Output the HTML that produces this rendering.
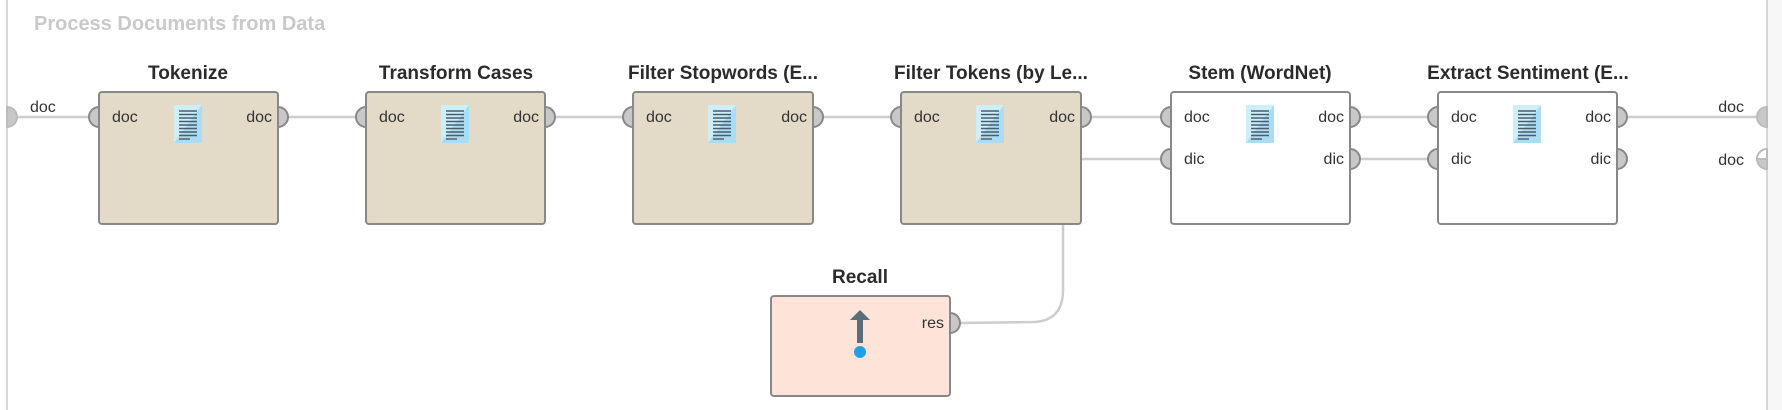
<!DOCTYPE html>
<html><head><meta charset="utf-8"><style>
html,body{margin:0;padding:0;background:#fff;}
svg{display:block;}
text{font-family:"Liberation Sans",sans-serif;}
</style></head><body>
<svg width="1782" height="410" viewBox="0 0 1782 410" xmlns="http://www.w3.org/2000/svg">
<defs>
<g id="icon">
  <rect x="0" y="0" width="28" height="38" fill="#cdeefb"/>
  <polygon points="28,0 28,38 0,38" fill="#a9dcf5"/>
  <g stroke="#4a5d6a" stroke-width="1.4">
    <line x1="5" y1="6" x2="23" y2="6"/><line x1="5" y1="9.5" x2="23" y2="9.5"/>
    <line x1="5" y1="13" x2="23" y2="13"/><line x1="5" y1="16.5" x2="23" y2="16.5"/>
    <line x1="5" y1="20" x2="23" y2="20"/><line x1="5" y1="23.5" x2="23" y2="23.5"/>
    <line x1="5" y1="27" x2="23" y2="27"/><line x1="5" y1="30.5" x2="23" y2="30.5"/>
    <line x1="5" y1="34" x2="16" y2="34"/>
  </g>
</g>
<path id="pin" d="M0,-10 A10,10 0 0 0 0,10 Z" fill="#c8c8c8" stroke="#888" stroke-width="2"/>
<path id="pout" d="M0,-10 A10,10 0 0 1 0,10 Z" fill="#c8c8c8" stroke="#888" stroke-width="2"/>
</defs>
<rect x="1767" y="0" width="15" height="410" fill="#f7f7f7"/>
<line x1="1767" y1="0" x2="1767" y2="410" stroke="#ccc" stroke-width="1.5"/>
<line x1="7" y1="0" x2="7" y2="410" stroke="#ccc" stroke-width="1.5"/>
<text x="34" y="30" font-size="20" font-weight="bold" fill="#c9c9c9">Process Documents from Data</text>

<g stroke="#cdcdcd" stroke-width="2.5" fill="none">
  <line x1="8" y1="117" x2="89" y2="117"/>
  <line x1="288" y1="117" x2="356" y2="117"/>
  <line x1="555" y1="117" x2="623" y2="117"/>
  <line x1="823" y1="117" x2="891" y2="117"/>
  <line x1="1091" y1="117" x2="1161" y2="117"/>
  <line x1="1360" y1="117" x2="1428" y2="117"/>
  <line x1="1360" y1="159" x2="1428" y2="159"/>
  <line x1="1627" y1="117" x2="1757" y2="117"/>
  <path d="M960,323 L1035,322 Q1063,320 1063,290 L1063,175 Q1063,160 1085,159 L1161,159"/>
</g>

<path d="M7,107 A10,10 0 0 1 7,127 Z" fill="#c8c8c8" stroke="#bbb" stroke-width="2"/>
<text x="30" y="112" font-size="16" fill="#333">doc</text>
<path d="M1767,107 A10,10 0 0 0 1767,127 Z" fill="#c8c8c8" stroke="#bbb" stroke-width="2"/>
<path d="M1767,149 A10,10 0 0 0 1757,159 L1767,159 Z" fill="#fff" stroke="#bbb" stroke-width="2"/>
<path d="M1757,159 A10,10 0 0 0 1767,169 L1767,159 Z" fill="#c8c8c8" stroke="#bbb" stroke-width="2"/>
<text x="1744" y="112" font-size="16" fill="#333" text-anchor="end">doc</text>
<text x="1744" y="165" font-size="16" fill="#333" text-anchor="end">doc</text>

<g font-size="16" fill="#333">
<text x="188" y="79" font-size="19" font-weight="bold" text-anchor="middle" fill="#2b2b2b">Tokenize</text>
<rect x="99" y="92" width="179" height="132" rx="3" fill="#e3dbc8" stroke="#888" stroke-width="2"/>
<use href="#icon" x="174" y="105"/>
<use href="#pin" x="99" y="117"/><use href="#pout" x="278" y="117"/>
<text x="112" y="122">doc</text><text x="272" y="122" text-anchor="end">doc</text>

<text x="456" y="79" font-size="19" font-weight="bold" text-anchor="middle" fill="#2b2b2b">Transform Cases</text>
<rect x="366" y="92" width="179" height="132" rx="3" fill="#e3dbc8" stroke="#888" stroke-width="2"/>
<use href="#icon" x="441" y="105"/>
<use href="#pin" x="366" y="117"/><use href="#pout" x="545" y="117"/>
<text x="379" y="122">doc</text><text x="539" y="122" text-anchor="end">doc</text>

<text x="723" y="79" font-size="19" font-weight="bold" text-anchor="middle" fill="#2b2b2b">Filter Stopwords (E...</text>
<rect x="633" y="92" width="180" height="132" rx="3" fill="#e3dbc8" stroke="#888" stroke-width="2"/>
<use href="#icon" x="708" y="105"/>
<use href="#pin" x="633" y="117"/><use href="#pout" x="813" y="117"/>
<text x="646" y="122">doc</text><text x="807" y="122" text-anchor="end">doc</text>

<text x="991" y="79" font-size="19" font-weight="bold" text-anchor="middle" fill="#2b2b2b">Filter Tokens (by Le...</text>
<rect x="901" y="92" width="180" height="132" rx="3" fill="#e3dbc8" stroke="#888" stroke-width="2"/>
<use href="#icon" x="976" y="105"/>
<use href="#pin" x="901" y="117"/><use href="#pout" x="1081" y="117"/>
<text x="914" y="122">doc</text><text x="1075" y="122" text-anchor="end">doc</text>

<text x="1260" y="79" font-size="19" font-weight="bold" text-anchor="middle" fill="#2b2b2b">Stem (WordNet)</text>
<rect x="1171" y="92" width="179" height="132" rx="3" fill="#fff" stroke="#888" stroke-width="2"/>
<use href="#icon" x="1246" y="105"/>
<use href="#pin" x="1171" y="117"/><use href="#pout" x="1350" y="117"/>
<use href="#pin" x="1171" y="159"/><use href="#pout" x="1350" y="159"/>
<text x="1184" y="122">doc</text><text x="1344" y="122" text-anchor="end">doc</text>
<text x="1184" y="164">dic</text><text x="1344" y="164" text-anchor="end">dic</text>

<text x="1528" y="79" font-size="19" font-weight="bold" text-anchor="middle" fill="#2b2b2b">Extract Sentiment (E...</text>
<rect x="1438" y="92" width="179" height="132" rx="3" fill="#fff" stroke="#888" stroke-width="2"/>
<use href="#icon" x="1513" y="105"/>
<use href="#pin" x="1438" y="117"/><use href="#pout" x="1617" y="117"/>
<use href="#pin" x="1438" y="159"/><use href="#pout" x="1617" y="159"/>
<text x="1451" y="122">doc</text><text x="1611" y="122" text-anchor="end">doc</text>
<text x="1451" y="164">dic</text><text x="1611" y="164" text-anchor="end">dic</text>

<text x="860" y="283" font-size="19" font-weight="bold" text-anchor="middle" fill="#2b2b2b">Recall</text>
<rect x="771" y="296" width="179" height="100" rx="3" fill="#fde3d8" stroke="#888" stroke-width="2"/>
<use href="#pout" x="950" y="323"/>
<text x="944" y="328" text-anchor="end">res</text>
<polygon points="860,310 870,320 863,320 863,343 857,343 857,320 850,320" fill="#5a6e7a"/>
<circle cx="860" cy="352" r="6" fill="#1ea0e6"/>
</g>
</svg>
</body></html>
